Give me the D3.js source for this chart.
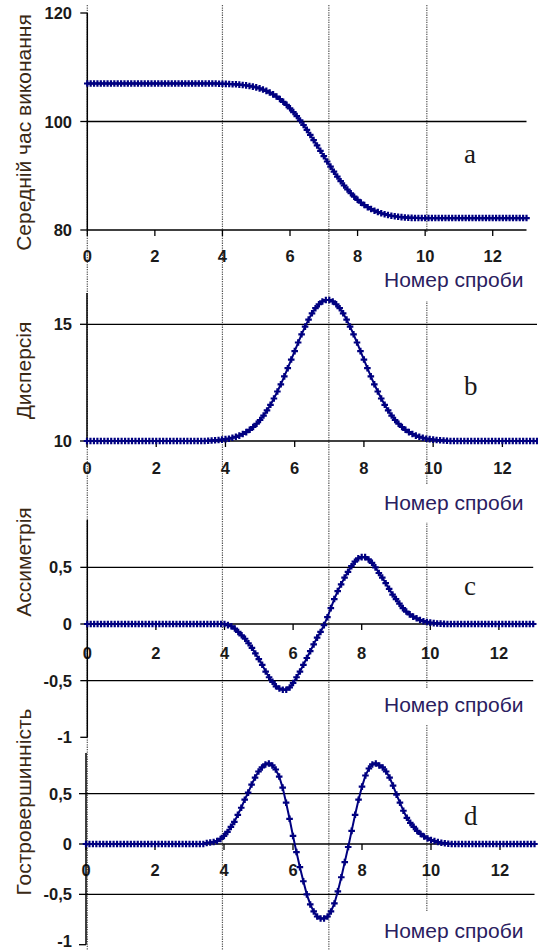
<!DOCTYPE html>
<html><head><meta charset="utf-8">
<script src="https://cdn.jsdelivr.net/npm/d3@7"></script>
<style>body{margin:0;background:#fff}svg{display:block}</style>
</head><body>
<svg id="chart" width="538" height="950"></svg>
<script>
// ---------------- DATA ----------------
const trials = [
0,0.1,0.2,0.3,0.4,0.5,0.6,0.7,0.8,0.9,
1,1.1,1.2,1.3,1.4,1.5,1.6,1.7,1.8,1.9,
2,2.1,2.2,2.3,2.4,2.5,2.6,2.7,2.8,2.9,
3,3.1,3.2,3.3,3.4,3.5,3.6,3.7,3.8,3.9,
4,4.1,4.2,4.3,4.4,4.5,4.6,4.7,4.8,4.9,
5,5.1,5.2,5.3,5.4,5.5,5.6,5.7,5.8,5.9,
6,6.1,6.2,6.3,6.4,6.5,6.6,6.7,6.8,6.9,
7,7.1,7.2,7.3,7.4,7.5,7.6,7.7,7.8,7.9,
8,8.1,8.2,8.3,8.4,8.5,8.6,8.7,8.8,8.9,
9,9.1,9.2,9.3,9.4,9.5,9.6,9.7,9.8,9.9,
10,10.1,10.2,10.3,10.4,10.5,10.6,10.7,10.8,10.9,
11,11.1,11.2,11.3,11.4,11.5,11.6,11.7,11.8,11.9,
12,12.1,12.2,12.3,12.4,12.5,12.6,12.7,12.8,12.9,
13];

const meanTime = [
107,107,107,107,107,107,107,107,107,107,
107,107,107,107,107,107,107,107,107,107,
107,107,107,107,107,107,107,107,107,107,
107,107,107,107,107,107,107,107,107,106.97,
106.95,106.94,106.91,106.88,106.85,106.80,106.73,106.66,106.56,106.43,
106.29,106.11,105.89,105.64,105.34,105.00,104.60,104.15,103.63,103.06,
102.43,101.74,101.00,100.20,99.35,98.45,97.52,96.57,95.59,94.60,
93.61,92.63,91.68,90.75,89.85,89.00,88.20,87.46,86.77,86.14,
85.57,85.05,84.60,84.20,83.86,83.56,83.31,83.09,82.91,82.76,
82.63,82.53,82.44,82.37,82.32,82.27,82.24,82.22,82.21,82.2,
82.2,82.2,82.2,82.2,82.2,82.2,82.2,82.2,82.2,82.2,
82.2,82.2,82.2,82.2,82.2,82.2,82.2,82.2,82.2,82.2,
82.2,82.2,82.2,82.2,82.2,82.2,82.2,82.2,82.2,82.2,
82.2];

const dispersion = [
10,10,10,10,10,10,10,10,10,10,
10,10,10,10,10,10,10,10,10,10,
10,10,10,10,10,10,10,10,10,10,
10,10,10,10,10,10.01,10.02,10.03,10.04,10.06,
10.08,10.10,10.14,10.18,10.23,10.30,10.38,10.48,10.60,10.74,
10.90,11.09,11.31,11.55,11.82,12.12,12.43,12.77,13.12,13.49,
13.85,14.22,14.57,14.90,15.20,15.47,15.69,15.86,15.98,16.04,
16.04,15.98,15.86,15.69,15.47,15.20,14.90,14.57,14.22,13.85,
13.49,13.12,12.77,12.43,12.12,11.82,11.55,11.31,11.09,10.90,
10.74,10.60,10.48,10.38,10.30,10.23,10.18,10.14,10.10,10.08,
10.06,10.04,10.03,10.02,10.01,10,10,10,10,10,
10,10,10,10,10,10,10,10,10,10,
10,10,10,10,10,10,10,10,10,10,
10];

const skewness = [
0,0,0,0,0,0,0,0,0,0,
0,0,0,0,0,0,0,0,0,0,
0,0,0,0,0,0,0,0,0,0,
0,0,0,0,0,0,0,0,0,0,
0,-0.01,-0.02,-0.04,-0.07,-0.10,-0.13,-0.17,-0.21,-0.26,
-0.31,-0.36,-0.42,-0.47,-0.51,-0.55,-0.57,-0.58,-0.58,-0.56,
-0.52,-0.47,-0.42,-0.36,-0.30,-0.24,-0.18,-0.12,-0.07,-0.01,
0.06,0.14,0.22,0.29,0.35,0.41,0.46,0.51,0.55,0.58,
0.59,0.59,0.57,0.54,0.50,0.45,0.41,0.36,0.31,0.26,
0.22,0.18,0.14,0.11,0.085,0.065,0.05,0.035,0.025,0.018,
0.012,0.008,0.005,0.003,0.001,0,0,0,0,0,
0,0,0,0,0,0,0,0,0,0,
0,0,0,0,0,0,0,0,0,0,
0];

const kurtosis = [
0,0,0,0,0,0,0,0,0,0,
0,0,0,0,0,0,0,0,0,0,
0,0,0,0,0,0,0,0,0,0,
0,0,0,0,0,0.01,0.015,0.02,0.03,0.05,
0.08,0.12,0.17,0.22,0.29,0.36,0.44,0.51,0.59,0.66,
0.72,0.76,0.79,0.80,0.78,0.74,0.67,0.56,0.41,0.25,
0.08,-0.08,-0.23,-0.37,-0.50,-0.60,-0.67,-0.72,-0.74,-0.74,
-0.72,-0.67,-0.59,-0.47,-0.33,-0.18,-0.03,0.13,0.29,0.44,
0.57,0.68,0.75,0.79,0.80,0.78,0.76,0.72,0.66,0.58,
0.49,0.41,0.33,0.26,0.21,0.17,0.13,0.10,0.075,0.055,
0.04,0.03,0.02,0.012,0.007,0.003,0,0,0,0,
0,0,0,0,0,0,0,0,0,0,
0,0,0,0,0,0,0,0,0,0,
0];

const xTicks = [0,2,4,6,8,10,12];
const xMax = 13;
const ticksA = [80,100,120], gridA = [100];
const ticksB = [10,15], gridB = [15];
const ticksC = [1,0.5,0,-0.5,-1], gridC = [0.5,-0.5];
const ticksD = [0.5,0,-0.5,-1], gridD = [0.5,-0.5];
const guideTrials = [0,4,7.15,10.05];   // dotted verticals, read on panel a's axis
const yTitles = ["Середній час виконання","Дисперсія","Ассиметрія","Гостровершинність"];
const xTitle = "Номер спроби";
const letters = ["a","b","c","d"];

// ---------------- LAYOUT ----------------
const svg = d3.select("#chart");
const navy = "#000080";
const fmt = v => String(v).replace(".", ",");

const panels = [
  {vals: meanTime, ticks: ticksA, grid: gridA, base: 80, dom: [80,120], rng: [230,13], xr: [87.3,526.5], axisTop: 13,
   tickLabY: 262, titleY: 132.5, xtY: 287, letterY: 163, cover: [233,301]},
  {vals: dispersion, ticks: ticksB, grid: gridB, base: 10, dom: [10,15], rng: [441,324.3], xr: [87,537], axisTop: 293,
   tickLabY: 474, titleY: 370.5, xtY: 510, letterY: 395, cover: [485,522]},
  {vals: skewness, ticks: ticksC, grid: gridC, base: 0, dom: [-1,1], rng: [737.3,510.7], xr: [87.3,533.2], axisTop: 520,
   tickLabY: 659, titleY: 562, xtY: 712, letterY: 595, cover: [688,725], clipTop: 517},
  {vals: kurtosis, ticks: ticksD, grid: gridD, base: 0, dom: [-1,1], rng: [944.7,743.3], xr: [86,534.5], axisTop: 753,
   tickLabY: 876, titleY: 802, xtY: 938, letterY: 825, cover: [911,950]}
];

// guide lines (dotted), drawn with panel a's horizontal scale
const xGuide = d3.scaleLinear().domain([0, xMax]).range(panels[0].xr);
svg.append("g").selectAll("line").data(guideTrials).join("line")
  .attr("x1", d => xGuide(d)).attr("x2", d => xGuide(d))
  .attr("y1", 5).attr("y2", 950)
  .attr("stroke", "#555").attr("stroke-width", 1.2).attr("stroke-dasharray", "1.3,1.1");

// white boxes behind the x-axis titles
svg.append("g").selectAll("rect").data(panels).join("rect")
  .attr("x", 378).attr("width", 156)
  .attr("y", p => p.cover[0]).attr("height", p => p.cover[1] - p.cover[0])
  .attr("fill", "#fff");

svg.append("defs").append("clipPath").attr("id", "clipC")
  .append("rect").attr("x", 0).attr("y", panels[2].clipTop).attr("width", 538).attr("height", 500);

panels.forEach((p, i) => {
  const g = svg.append("g");
  const x = d3.scaleLinear().domain([0, xMax]).range(p.xr);
  const y = d3.scaleLinear().domain(p.dom).range(p.rng);
  const x0 = x(0), xEnd = x(xMax), yb = y(p.base);

  // gridlines
  g.selectAll(".grid").data(p.grid).join("line")
    .attr("x1", x0).attr("x2", xEnd).attr("y1", d => y(d)).attr("y2", d => y(d))
    .attr("stroke", "#000").attr("stroke-width", 1.3);

  // x axis
  g.append("line").attr("x1", x0).attr("x2", xEnd).attr("y1", yb).attr("y2", yb)
    .attr("stroke", "#000").attr("stroke-width", 1.4);
  g.selectAll(".xt").data(xTicks).join("line")
    .attr("x1", d => x(d)).attr("x2", d => x(d)).attr("y1", yb).attr("y2", yb + 6)
    .attr("stroke", "#000").attr("stroke-width", 1.3);
  g.selectAll(".xl").data(xTicks).join("text")
    .attr("x", d => x(d)).attr("y", p.tickLabY)
    .attr("text-anchor", "middle").attr("font-family", "Liberation Sans, Arial, sans-serif")
    .attr("font-weight", "bold").attr("font-size", 16.5).attr("fill", "#1a1a1a")
    .text(d => d);

  // y axis
  const yBottom = y(p.dom[0]);
  g.append("line").attr("x1", x0).attr("x2", x0).attr("y1", p.axisTop).attr("y2", yBottom)
    .attr("stroke", "#000").attr("stroke-width", 1.5);
  const tg = g.append("g");
  if (p.clipTop) tg.attr("clip-path", "url(#clipC)");
  tg.selectAll(".yt").data(p.ticks).join("line")
    .attr("x1", x0 - 7).attr("x2", x0).attr("y1", d => y(d)).attr("y2", d => y(d))
    .attr("stroke", "#000").attr("stroke-width", 1.3);
  tg.selectAll(".yl").data(p.ticks).join("text")
    .attr("x", 72).attr("y", d => Math.min(y(d) + 6, 947))
    .attr("text-anchor", "end").attr("font-family", "Liberation Sans, Arial, sans-serif")
    .attr("font-weight", "bold").attr("font-size", 16.5).attr("fill", "#1a1a1a")
    .text(d => fmt(d));

  // y title
  g.append("text").attr("transform", `translate(31,${p.titleY}) rotate(-90)`)
    .attr("text-anchor", "middle").attr("font-family", "Liberation Sans, Arial, sans-serif")
    .attr("font-size", 21).attr("fill", "#3a2814").text(yTitles[i]);

  // panel letter
  g.append("text").attr("x", 464).attr("y", p.letterY)
    .attr("font-family", "Liberation Serif, Times New Roman, serif")
    .attr("font-size", 27).attr("fill", "#1a1a1a").text(letters[i]);

  // curve
  const pts = trials.map((t, k) => [t, p.vals[k]]);
  g.append("path").datum(pts)
    .attr("d", d3.line().x(d => x(d[0])).y(d => y(d[1])))
    .attr("fill", "none").attr("stroke", navy).attr("stroke-width", 2);
  const sym = d3.symbol(d3.symbolCross, 24);
  g.selectAll(".mk").data(pts).join("path")
    .attr("transform", d => `translate(${x(d[0])},${y(d[1])})`)
    .attr("d", sym).attr("fill", navy);

  // x title
  g.append("text").attr("x", 384).attr("y", p.xtY)
    .attr("font-family", "Liberation Sans, Arial, sans-serif")
    .attr("font-size", 21).attr("fill", "#2a2060").text(xTitle);
});
</script>
</body></html>
